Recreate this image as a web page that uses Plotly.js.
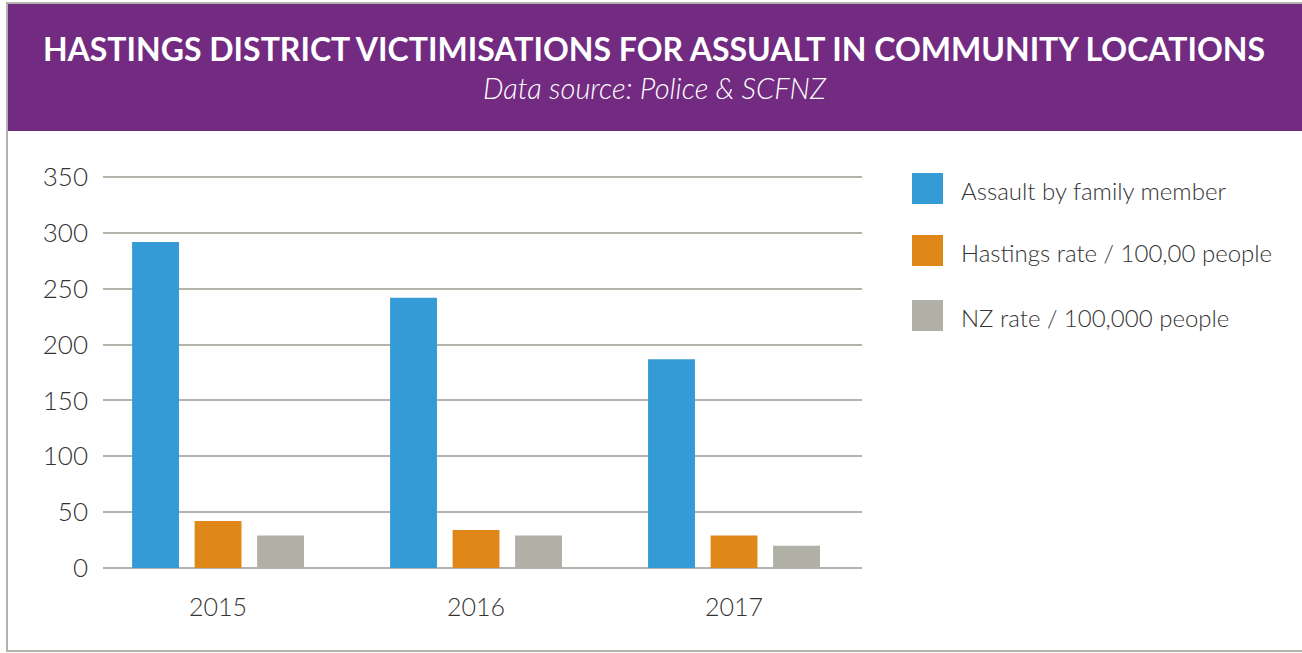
<!DOCTYPE html>
<html>
<head>
<meta charset="utf-8">
<script src="https://cdn.plot.ly/plotly-3.0.1.min.js"></script>
<style>
  html, body { margin: 0; padding: 0; background: #fff; }
  #chart { width: 1302px; height: 653px; }
</style>
</head>
<body>
<div id="chart"></div>
<script>
// chart data
var years = ['2015', '2016', '2017'];
var seriesNames = ['Assault by family member', 'Hastings rate / 100,00 people', 'NZ rate / 100,000 people'];
var familyAssault = [292, 242, 187];
var hastingsRate = [42, 34, 29];
var nzRate = [29, 29, 20];
var yTicks = [0, 50, 100, 150, 200, 250, 300, 350];

var colors = ['#359bd6', '#df8819', '#b0b0a7'];
var gridColor = '#b4b4ab';
var purple = '#722b81';

// pixel frame of the plot area, used to place the header and legend
var W = 1302, H = 653;
var L = 103, R = 862, T = 176, B = 568;
function px(x) { return (x - L) / (R - L); }
function py(y) { return (B - y) / (B - T); }

var values = [familyAssault, hastingsRate, nzRate];
var traces = values.map(function (v, i) {
  return {
    type: 'bar',
    x: years,
    y: v,
    name: seriesNames[i],
    marker: { color: colors[i] },
    hoverinfo: 'x+y+name'
  };
});

var shapes = [
  // outer frame
  { type: 'rect', xref: 'paper', yref: 'paper', layer: 'below',
    x0: px(7), x1: px(1320), y0: py(651), y1: py(3),
    line: { color: gridColor, width: 2 }, fillcolor: 'rgba(0,0,0,0)' },
  // purple header band
  { type: 'rect', xref: 'paper', yref: 'paper', layer: 'below',
    x0: px(8), x1: px(1302), y0: py(131), y1: py(4),
    line: { width: 0 }, fillcolor: purple }
];
var annotations = [
  { xref: 'paper', yref: 'paper', x: px(655), y: py(88),
    xanchor: 'center', yanchor: 'middle', showarrow: false,
    text: '<i>Data source: Police &amp; SCFNZ</i>',
    font: { family: 'Lato, sans-serif', size: 29, color: '#ffffff', weight: 300 } }
];

// legend drawn by hand so the swatches can be large squares
var legendTop = [173, 235, 300];
seriesNames.forEach(function (name, i) {
  shapes.push({ type: 'rect', xref: 'paper', yref: 'paper',
    x0: px(912), x1: px(943), y0: py(legendTop[i] + 31), y1: py(legendTop[i]),
    line: { width: 0 }, fillcolor: colors[i] });
  annotations.push({ xref: 'paper', yref: 'paper', x: px(959), y: py(legendTop[i] + 17),
    xanchor: 'left', yanchor: 'middle', showarrow: false, text: name,
    font: { family: 'Lato, sans-serif', size: 24, color: '#333333', weight: 300 } });
});

var layout = {
  width: W,
  height: H,
  margin: { l: L, r: W - R, t: T, b: H - B, pad: 0 },
  paper_bgcolor: '#ffffff',
  plot_bgcolor: '#ffffff',
  showlegend: false,
  barmode: 'group',
  bargap: 0.273,
  bargroupgap: 0.25,
  title: {
    text: '<b>HASTINGS DISTRICT VICTIMISATIONS FOR ASSUALT IN COMMUNITY LOCATIONS</b>',
    x: 654 / W, xanchor: 'center',
    y: 1 - 50 / H, yanchor: 'middle',
    font: { family: 'Lato, sans-serif', size: 32, color: '#ffffff' }
  },
  xaxis: {
    type: 'category',
    range: [-0.446, 2.496],
    showgrid: false,
    showline: false,
    zeroline: false,
    ticks: '',
    ticklabelstandoff: 22,
    tickfont: { family: 'Lato, sans-serif', size: 25, color: '#333333', weight: 300 }
  },
  yaxis: {
    range: [0, 351],
    tickvals: yTicks,
    showgrid: true,
    gridcolor: gridColor,
    gridwidth: 2,
    zeroline: true,
    zerolinecolor: gridColor,
    zerolinewidth: 2,
    showline: false,
    ticks: '',
    ticklabelstandoff: 14,
    tickfont: { family: 'Lato, sans-serif', size: 26, color: '#333333', weight: 300 }
  },
  shapes: shapes,
  annotations: annotations
};

Plotly.newPlot('chart', traces, layout, { displayModeBar: false, responsive: false });
</script>
</body>
</html>
